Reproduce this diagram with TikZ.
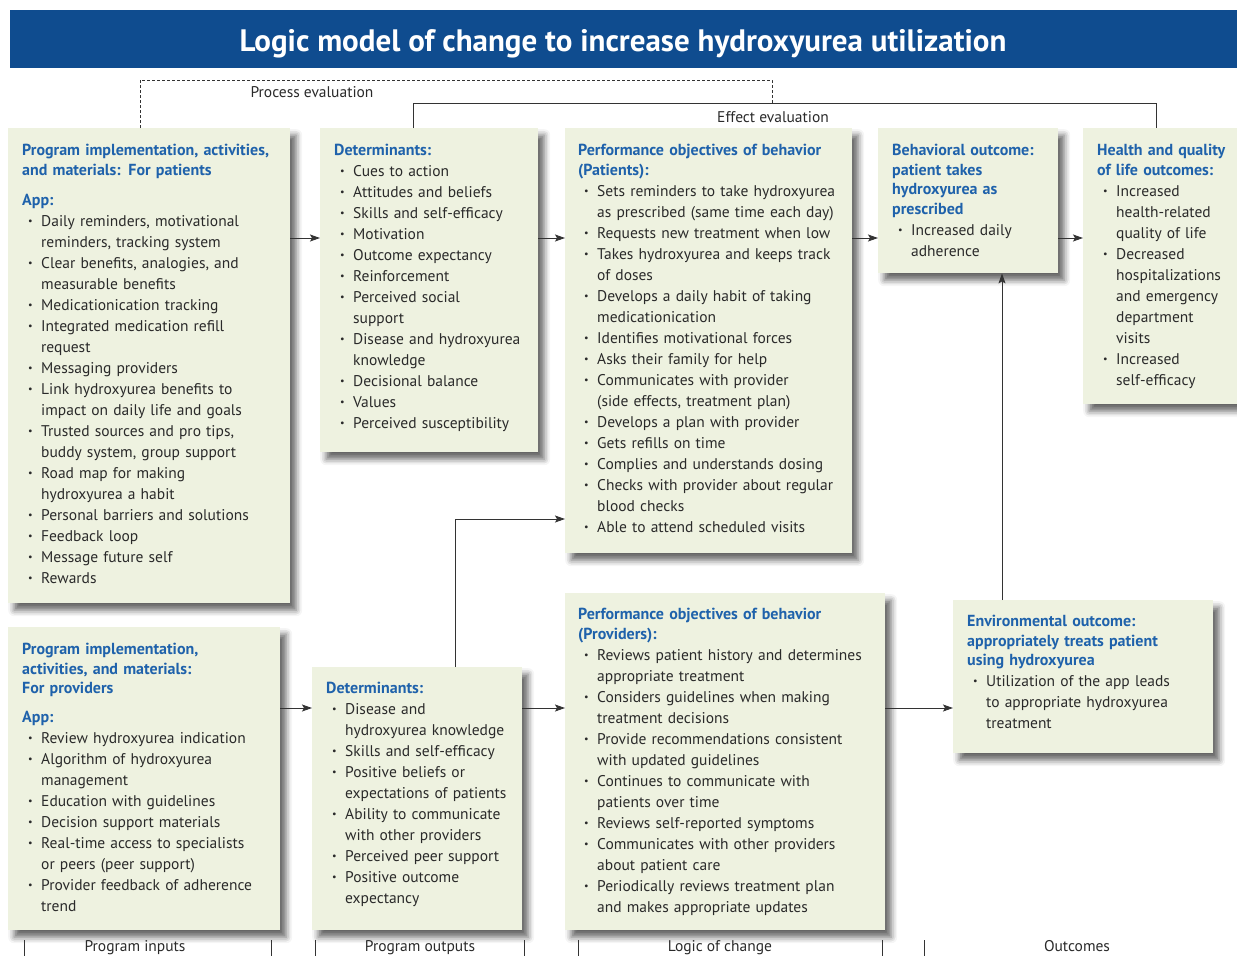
\documentclass[tikz,border=0pt]{standalone}
\usepackage{fontspec}
\setmainfont{PT Sans}
\usepackage{graphicx}
\usetikzlibrary{arrows.meta,shadows.blur}
\definecolor{titleblue}{HTML}{0F4C8F}
\definecolor{hblue}{HTML}{1F62AB}
\definecolor{boxfill}{HTML}{EEF2E0}
\definecolor{bodytext}{HTML}{2A2A2A}
\definecolor{linegray}{HTML}{333333}
\newcommand\nl{\newline}
\newcommand\sbul{\raisebox{0.25ex}{\scalebox{0.65}{\textbullet}}}
\newcommand\itm[1]{\par\hangindent=19pt\hangafter=1\noindent\makebox[19pt][l]{\hspace{6pt}\sbul}#1\par}
\newcommand\hd[1]{{\noindent\color{hblue}\bfseries\fontsize{16}{19.5}\selectfont #1\par}}
\newcommand\bodyfont{\fontsize{15.5}{21}\selectfont}
\tikzset{
  box/.style={fill=boxfill, inner sep=0pt, anchor=north west,
    blur shadow={shadow xshift=6pt, shadow yshift=-7pt, shadow blur radius=6pt, shadow opacity=60}},
  txt/.style={anchor=north west, inner sep=0pt, text width=330pt, align=left,
    font=\bodyfont, text=bodytext},
  lbl/.style={inner sep=0pt, font=\bodyfont, text=bodytext},
  arr/.style={draw=linegray, line width=0.9pt, -{Stealth[length=10pt,width=7pt,inset=2pt]}},
  evalline/.style={draw=linegray, line width=0.8pt},
  evaldash/.style={draw=linegray, line width=0.8pt, dash pattern=on 3pt off 2pt},
  tickline/.style={draw=linegray, line width=0.8pt}
}
\begin{document}
\begin{tikzpicture}[x=1pt,y=-1pt]
\useasboundingbox (0,0) rectangle (1237,956);
% title
\node[fill=titleblue, inner sep=0pt, anchor=north west, minimum width=1227pt, minimum height=58pt] (title) at (10,10) {};
\node[text=white, font=\fontsize{31}{34}\selectfont\bfseries, inner sep=0pt, anchor=base] (titletext) at (623,51) {Logic model of change to increase hydroxyurea utilization};

% boxes
\node[box, minimum width=282pt, minimum height=475pt] (b1) at (8,128) {};
\node[box, minimum width=218pt, minimum height=324pt] (b2) at (320,128) {};
\node[box, minimum width=287pt, minimum height=425pt] (b3) at (565,128) {};
\node[box, minimum width=180pt, minimum height=145pt] (b4) at (878,128) {};
\node[box, minimum width=170pt, minimum height=276pt] (b5) at (1083,128) {};
\node[box, minimum width=272pt, minimum height=303pt] (b6) at (8,627) {};
\node[box, minimum width=210pt, minimum height=263pt] (b7) at (312,667) {};
\node[box, minimum width=320pt, minimum height=337pt] (b8) at (565,593) {};
\node[box, minimum width=260pt, minimum height=153pt] (b9) at (953,600) {};

% texts
\node[txt] (t1) at (22,144) {\hd{Program implementation, activities,\nl and materials: For patients}
\vspace{10.5pt}\hd{App:}
\itm{Daily reminders, motivational\nl reminders, tracking system}
\itm{Clear benefits, analogies, and\nl measurable benefits}
\itm{Medicationication tracking}
\itm{Integrated medication refill\nl request}
\itm{Messaging providers}
\itm{Link hydroxyurea benefits to\nl impact on daily life and goals}
\itm{Trusted sources and pro tips,\nl buddy system, group support}
\itm{Road map for making\nl hydroxyurea a habit}
\itm{Personal barriers and solutions}
\itm{Feedback loop}
\itm{Message future self}
\itm{Rewards}};

\node[txt] (t2) at (334,144) {\hd{Determinants:}
\itm{Cues to action}
\itm{Attitudes and beliefs}
\itm{Skills and self-efficacy}
\itm{Motivation}
\itm{Outcome expectancy}
\itm{Reinforcement}
\itm{Perceived social\nl support}
\itm{Disease and hydroxyurea\nl knowledge}
\itm{Decisional balance}
\itm{Values}
\itm{Perceived susceptibility}};

\node[txt] (t3) at (578,144) {\hd{Performance objectives of behavior\nl (Patients):}
\itm{Sets reminders to take hydroxyurea\nl as prescribed (same time each day)}
\itm{Requests new treatment when low}
\itm{Takes hydroxyurea and keeps track\nl of doses}
\itm{Develops a daily habit of taking\nl medicationication}
\itm{Identifies motivational forces}
\itm{Asks their family for help}
\itm{Communicates with provider\nl (side effects, treatment plan)}
\itm{Develops a plan with provider}
\itm{Gets refills on time}
\itm{Complies and understands dosing}
\itm{Checks with provider about regular\nl blood checks}
\itm{Able to attend scheduled visits}};

\node[txt] (t4) at (892,144) {\hd{Behavioral outcome:\nl patient takes\nl hydroxyurea as\nl prescribed}
\itm{Increased daily\nl adherence}};

\node[txt] (t5) at (1097,144) {\hd{Health and quality\nl of life outcomes:}
\itm{Increased\nl health-related\nl quality of life}
\itm{Decreased\nl hospitalizations\nl and emergency\nl department\nl visits}
\itm{Increased\nl self-efficacy}};

\node[txt] (t6) at (22,643) {\hd{Program implementation,\nl activities, and materials:\nl For providers}
\vspace{9.5pt}\hd{App:}
\itm{Review hydroxyurea indication}
\itm{Algorithm of hydroxyurea\nl management}
\itm{Education with guidelines}
\itm{Decision support materials}
\itm{Real-time access to specialists\nl or peers (peer support)}
\itm{Provider feedback of adherence\nl trend}};

\node[txt] (t7) at (326,682) {\hd{Determinants:}
\itm{Disease and\nl hydroxyurea knowledge}
\itm{Skills and self-efficacy}
\itm{Positive beliefs or\nl expectations of patients}
\itm{Ability to communicate\nl with other providers}
\itm{Perceived peer support}
\itm{Positive outcome\nl expectancy}};

\node[txt] (t8) at (578,608) {\hd{Performance objectives of behavior\nl (Providers):}
\itm{Reviews patient history and determines\nl appropriate treatment}
\itm{Considers guidelines when making\nl treatment decisions}
\itm{Provide recommendations consistent\nl with updated guidelines}
\itm{Continues to communicate with\nl patients over time}
\itm{Reviews self-reported symptoms}
\itm{Communicates with other providers\nl about patient care}
\itm{Periodically reviews treatment plan\nl and makes appropriate updates}};

\node[txt] (t9) at (967,615) {\hd{Environmental outcome:\nl appropriately treats patient\nl using hydroxyurea}
\itm{Utilization of the app leads\nl to appropriate hydroxyurea\nl treatment}};

% evaluation lines
\draw[evaldash] (b1.north -| 140,0) |- (772,80) -- (772,103);
\draw[evalline] (b2.north -| 413,0) |- (1156,103) -- (b5.north -| 1156,0);
\node[lbl, anchor=base] (pel) at (312,97) {Process evaluation};
\node[lbl, anchor=base] (eel) at (773,122) {Effect evaluation};

% arrows
\draw[arr] (b1.east |- 0,238) -- (b2.west |- 0,238);
\draw[arr] (b2.east |- 0,238) -- (b3.west |- 0,238);
\draw[arr] (b3.east |- 0,238) -- (b4.west |- 0,238);
\draw[arr] (b4.east |- 0,238) -- (b5.west |- 0,238);
\draw[arr] (b6.east |- 0,708) -- (b7.west |- 0,708);
\draw[arr] (b7.east |- 0,708) -- (b8.west |- 0,708);
\draw[arr] (b8.east |- 0,708) -- (b9.west |- 0,708);
\draw[arr] (b9.north -| 1002,0) -- (b4.south -| 1002,0);
\draw[arr] (b7.north -| 455,0) |- (b3.west |- 0,519);

% bottom scale
\foreach \xx in {24,271,315,524,578,882,924} \draw[tickline] (\xx,940) -- (\xx,956);
\node[lbl, anchor=base] (lin) at (135,951) {Program inputs};
\node[lbl, anchor=base] (lout) at (420,951) {Program outputs};
\node[lbl, anchor=base] (llog) at (720,951) {Logic of change};
\node[lbl, anchor=base] (lres) at (1077,951) {Outcomes};
\end{tikzpicture}
\end{document}
